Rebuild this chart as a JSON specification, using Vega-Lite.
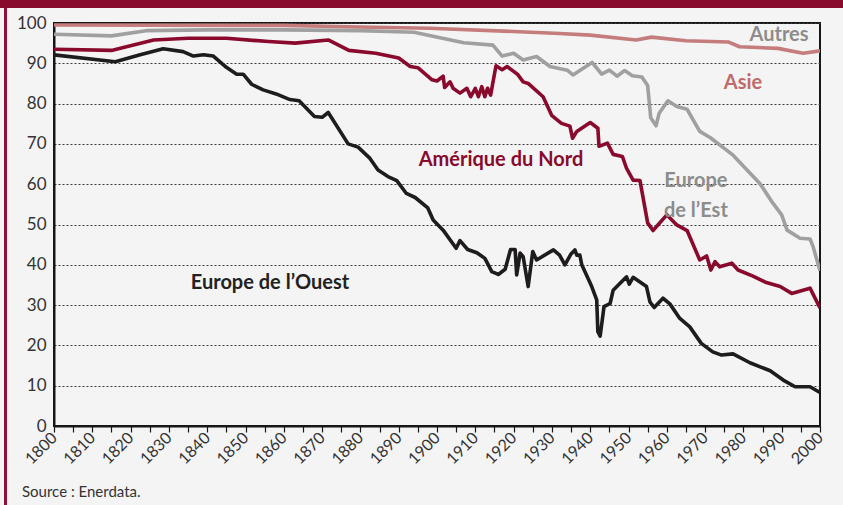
{
  "$schema": "https://vega.github.io/schema/vega-lite/v6.json",
  "width": 766,
  "height": 403,
  "autosize": "none",
  "padding": {"left": 54, "top": 23, "right": 23, "bottom": 79},
  "background": "#f4f4f4",
  "config": {
    "view": {"stroke": "#161616", "strokeWidth": 2},
    "font": "Lato"
  },
  "title": {
    "text": "Source : Enerdata.",
    "orient": "bottom",
    "anchor": "start",
    "frame": "group",
    "dx": -32,
    "offset": -22,
    "fontSize": 15,
    "fontWeight": "normal",
    "font": "Lato",
    "color": "#333333"
  },
  "datasets": {
    "lines": [
      {"s": "Europe de l'Est", "year": 1800, "v": 97.2},
      {"s": "Europe de l'Est", "year": 1815, "v": 96.8},
      {"s": "Europe de l'Est", "year": 1824, "v": 98.1},
      {"s": "Europe de l'Est", "year": 1840, "v": 98.3},
      {"s": "Europe de l'Est", "year": 1860, "v": 98.3},
      {"s": "Europe de l'Est", "year": 1880, "v": 98.1},
      {"s": "Europe de l'Est", "year": 1894, "v": 97.7},
      {"s": "Europe de l'Est", "year": 1907, "v": 95.1},
      {"s": "Europe de l'Est", "year": 1914.6, "v": 94.5},
      {"s": "Europe de l'Est", "year": 1917, "v": 91.8},
      {"s": "Europe de l'Est", "year": 1920, "v": 92.5},
      {"s": "Europe de l'Est", "year": 1922.5, "v": 90.8},
      {"s": "Europe de l'Est", "year": 1926, "v": 91.7},
      {"s": "Europe de l'Est", "year": 1929.5, "v": 89.2},
      {"s": "Europe de l'Est", "year": 1934, "v": 88.3},
      {"s": "Europe de l'Est", "year": 1935.5, "v": 87.1},
      {"s": "Europe de l'Est", "year": 1940.5, "v": 90.2},
      {"s": "Europe de l'Est", "year": 1943, "v": 87.3},
      {"s": "Europe de l'Est", "year": 1945, "v": 88.3},
      {"s": "Europe de l'Est", "year": 1947, "v": 86.8},
      {"s": "Europe de l'Est", "year": 1949, "v": 88.2},
      {"s": "Europe de l'Est", "year": 1951, "v": 86.9},
      {"s": "Europe de l'Est", "year": 1953.5, "v": 86.6},
      {"s": "Europe de l'Est", "year": 1955, "v": 84.5},
      {"s": "Europe de l'Est", "year": 1955.8, "v": 76.5},
      {"s": "Europe de l'Est", "year": 1957.2, "v": 74.5},
      {"s": "Europe de l'Est", "year": 1958, "v": 77.6},
      {"s": "Europe de l'Est", "year": 1960.3, "v": 80.7},
      {"s": "Europe de l'Est", "year": 1962.6, "v": 79.3},
      {"s": "Europe de l'Est", "year": 1965.3, "v": 78.6},
      {"s": "Europe de l'Est", "year": 1968.6, "v": 73.1},
      {"s": "Europe de l'Est", "year": 1971.3, "v": 71.6},
      {"s": "Europe de l'Est", "year": 1977.3, "v": 67.2},
      {"s": "Europe de l'Est", "year": 1984.3, "v": 60.2},
      {"s": "Europe de l'Est", "year": 1987.7, "v": 55.3},
      {"s": "Europe de l'Est", "year": 1990, "v": 52.4},
      {"s": "Europe de l'Est", "year": 1991.4, "v": 48.6},
      {"s": "Europe de l'Est", "year": 1994.8, "v": 46.6},
      {"s": "Europe de l'Est", "year": 1997.4, "v": 46.4},
      {"s": "Europe de l'Est", "year": 1998.2, "v": 44.5},
      {"s": "Europe de l'Est", "year": 2000, "v": 38.5},

      {"s": "Asie", "year": 1800, "v": 99.5},
      {"s": "Asie", "year": 1860, "v": 99.4},
      {"s": "Asie", "year": 1880, "v": 99.0},
      {"s": "Asie", "year": 1898, "v": 98.7},
      {"s": "Asie", "year": 1920, "v": 97.9},
      {"s": "Asie", "year": 1932, "v": 97.4},
      {"s": "Asie", "year": 1940, "v": 97.0},
      {"s": "Asie", "year": 1952, "v": 95.8},
      {"s": "Asie", "year": 1956, "v": 96.5},
      {"s": "Asie", "year": 1965, "v": 95.6},
      {"s": "Asie", "year": 1976, "v": 95.3},
      {"s": "Asie", "year": 1979, "v": 94.1},
      {"s": "Asie", "year": 1989, "v": 93.7},
      {"s": "Asie", "year": 1995.6, "v": 92.5},
      {"s": "Asie", "year": 2000, "v": 93.1},

      {"s": "Amérique du Nord", "year": 1800, "v": 93.5},
      {"s": "Amérique du Nord", "year": 1815, "v": 93.2},
      {"s": "Amérique du Nord", "year": 1826, "v": 95.8},
      {"s": "Amérique du Nord", "year": 1835, "v": 96.2},
      {"s": "Amérique du Nord", "year": 1845, "v": 96.2},
      {"s": "Amérique du Nord", "year": 1856, "v": 95.4},
      {"s": "Amérique du Nord", "year": 1863, "v": 95.0},
      {"s": "Amérique du Nord", "year": 1871.6, "v": 95.8},
      {"s": "Amérique du Nord", "year": 1877, "v": 93.2},
      {"s": "Amérique du Nord", "year": 1884, "v": 92.5},
      {"s": "Amérique du Nord", "year": 1890, "v": 91.3},
      {"s": "Amérique du Nord", "year": 1893, "v": 89.2},
      {"s": "Amérique du Nord", "year": 1895, "v": 88.9},
      {"s": "Amérique du Nord", "year": 1898.7, "v": 85.9},
      {"s": "Amérique du Nord", "year": 1900, "v": 85.6},
      {"s": "Amérique du Nord", "year": 1901.6, "v": 86.8},
      {"s": "Amérique du Nord", "year": 1902, "v": 84.0},
      {"s": "Amérique du Nord", "year": 1903.4, "v": 85.4},
      {"s": "Amérique du Nord", "year": 1904.2, "v": 83.8},
      {"s": "Amérique du Nord", "year": 1906, "v": 82.6},
      {"s": "Amérique du Nord", "year": 1907.8, "v": 83.8},
      {"s": "Amérique du Nord", "year": 1908.8, "v": 81.7},
      {"s": "Amérique du Nord", "year": 1910, "v": 83.8},
      {"s": "Amérique du Nord", "year": 1910.8, "v": 81.7},
      {"s": "Amérique du Nord", "year": 1911.7, "v": 84.2},
      {"s": "Amérique du Nord", "year": 1912.5, "v": 81.7},
      {"s": "Amérique du Nord", "year": 1913.2, "v": 83.8},
      {"s": "Amérique du Nord", "year": 1914, "v": 82.1},
      {"s": "Amérique du Nord", "year": 1915.4, "v": 89.4},
      {"s": "Amérique du Nord", "year": 1917, "v": 88.4},
      {"s": "Amérique du Nord", "year": 1918.3, "v": 89.2},
      {"s": "Amérique du Nord", "year": 1920, "v": 88.0},
      {"s": "Amérique du Nord", "year": 1921, "v": 87.3},
      {"s": "Amérique du Nord", "year": 1922.5, "v": 85.4},
      {"s": "Amérique du Nord", "year": 1923.8, "v": 85.0},
      {"s": "Amérique du Nord", "year": 1927.7, "v": 81.7},
      {"s": "Amérique du Nord", "year": 1930, "v": 77.0},
      {"s": "Amérique du Nord", "year": 1932.5, "v": 75.1},
      {"s": "Amérique du Nord", "year": 1934.7, "v": 74.4},
      {"s": "Amérique du Nord", "year": 1935.4, "v": 71.4},
      {"s": "Amérique du Nord", "year": 1936.5, "v": 73.1},
      {"s": "Amérique du Nord", "year": 1940, "v": 75.3},
      {"s": "Amérique du Nord", "year": 1942, "v": 73.9},
      {"s": "Amérique du Nord", "year": 1942.3, "v": 69.4},
      {"s": "Amérique du Nord", "year": 1944.5, "v": 70.2},
      {"s": "Amérique du Nord", "year": 1946, "v": 67.4},
      {"s": "Amérique du Nord", "year": 1948.4, "v": 66.9},
      {"s": "Amérique du Nord", "year": 1949.5, "v": 63.9},
      {"s": "Amérique du Nord", "year": 1951.2, "v": 61.0},
      {"s": "Amérique du Nord", "year": 1953, "v": 60.9},
      {"s": "Amérique du Nord", "year": 1955, "v": 50.4},
      {"s": "Amérique du Nord", "year": 1956.4, "v": 48.5},
      {"s": "Amérique du Nord", "year": 1960, "v": 52.4},
      {"s": "Amérique du Nord", "year": 1962.6, "v": 49.9},
      {"s": "Amérique du Nord", "year": 1965.3, "v": 48.5},
      {"s": "Amérique du Nord", "year": 1968.6, "v": 41.2},
      {"s": "Amérique du Nord", "year": 1970.4, "v": 42.2},
      {"s": "Amérique du Nord", "year": 1971.5, "v": 38.7},
      {"s": "Amérique du Nord", "year": 1972.6, "v": 40.8},
      {"s": "Amérique du Nord", "year": 1973.8, "v": 39.5},
      {"s": "Amérique du Nord", "year": 1977, "v": 40.4},
      {"s": "Amérique du Nord", "year": 1978.6, "v": 38.7},
      {"s": "Amérique du Nord", "year": 1982.5, "v": 37.2},
      {"s": "Amérique du Nord", "year": 1986, "v": 35.6},
      {"s": "Amérique du Nord", "year": 1989.6, "v": 34.6},
      {"s": "Amérique du Nord", "year": 1992.6, "v": 32.9},
      {"s": "Amérique du Nord", "year": 1997.4, "v": 34.2},
      {"s": "Amérique du Nord", "year": 2000, "v": 29.3},

      {"s": "Europe de l'Ouest", "year": 1800, "v": 92.1},
      {"s": "Europe de l'Ouest", "year": 1816, "v": 90.4},
      {"s": "Europe de l'Ouest", "year": 1822.5, "v": 92.1},
      {"s": "Europe de l'Ouest", "year": 1828.5, "v": 93.6},
      {"s": "Europe de l'Ouest", "year": 1833.7, "v": 92.9},
      {"s": "Europe de l'Ouest", "year": 1836.4, "v": 91.8},
      {"s": "Europe de l'Ouest", "year": 1839, "v": 92.1},
      {"s": "Europe de l'Ouest", "year": 1841.6, "v": 91.8},
      {"s": "Europe de l'Ouest", "year": 1845, "v": 89.0},
      {"s": "Europe de l'Ouest", "year": 1847.7, "v": 87.3},
      {"s": "Europe de l'Ouest", "year": 1849.4, "v": 87.3},
      {"s": "Europe de l'Ouest", "year": 1851.6, "v": 84.8},
      {"s": "Europe de l'Ouest", "year": 1854.6, "v": 83.4},
      {"s": "Europe de l'Ouest", "year": 1858, "v": 82.4},
      {"s": "Europe de l'Ouest", "year": 1861.6, "v": 81.0},
      {"s": "Europe de l'Ouest", "year": 1864, "v": 80.7},
      {"s": "Europe de l'Ouest", "year": 1868, "v": 76.8},
      {"s": "Europe de l'Ouest", "year": 1870, "v": 76.6},
      {"s": "Europe de l'Ouest", "year": 1871.6, "v": 77.8},
      {"s": "Europe de l'Ouest", "year": 1876.8, "v": 70.0},
      {"s": "Europe de l'Ouest", "year": 1879.4, "v": 69.2},
      {"s": "Europe de l'Ouest", "year": 1882.5, "v": 66.4},
      {"s": "Europe de l'Ouest", "year": 1884.6, "v": 63.5},
      {"s": "Europe de l'Ouest", "year": 1887.2, "v": 61.9},
      {"s": "Europe de l'Ouest", "year": 1889.5, "v": 60.9},
      {"s": "Europe de l'Ouest", "year": 1892, "v": 57.7},
      {"s": "Europe de l'Ouest", "year": 1894.3, "v": 56.7},
      {"s": "Europe de l'Ouest", "year": 1897.6, "v": 54.1},
      {"s": "Europe de l'Ouest", "year": 1899, "v": 51.1},
      {"s": "Europe de l'Ouest", "year": 1901.6, "v": 48.6},
      {"s": "Europe de l'Ouest", "year": 1905, "v": 44.1},
      {"s": "Europe de l'Ouest", "year": 1906, "v": 46.0},
      {"s": "Europe de l'Ouest", "year": 1908, "v": 43.8},
      {"s": "Europe de l'Ouest", "year": 1910.4, "v": 43.0},
      {"s": "Europe de l'Ouest", "year": 1912.5, "v": 41.6},
      {"s": "Europe de l'Ouest", "year": 1914.3, "v": 38.3},
      {"s": "Europe de l'Ouest", "year": 1916, "v": 37.6},
      {"s": "Europe de l'Ouest", "year": 1917.8, "v": 38.9},
      {"s": "Europe de l'Ouest", "year": 1919.2, "v": 43.8},
      {"s": "Europe de l'Ouest", "year": 1920.4, "v": 43.8},
      {"s": "Europe de l'Ouest", "year": 1920.8, "v": 37.5},
      {"s": "Europe de l'Ouest", "year": 1921.7, "v": 42.9},
      {"s": "Europe de l'Ouest", "year": 1922.5, "v": 42.0},
      {"s": "Europe de l'Ouest", "year": 1923.8, "v": 34.6},
      {"s": "Europe de l'Ouest", "year": 1925, "v": 43.3},
      {"s": "Europe de l'Ouest", "year": 1926, "v": 41.2},
      {"s": "Europe de l'Ouest", "year": 1930.4, "v": 43.7},
      {"s": "Europe de l'Ouest", "year": 1932, "v": 42.4},
      {"s": "Europe de l'Ouest", "year": 1933.4, "v": 40.0},
      {"s": "Europe de l'Ouest", "year": 1935, "v": 42.7},
      {"s": "Europe de l'Ouest", "year": 1936, "v": 43.7},
      {"s": "Europe de l'Ouest", "year": 1936.5, "v": 42.4},
      {"s": "Europe de l'Ouest", "year": 1937.3, "v": 42.4},
      {"s": "Europe de l'Ouest", "year": 1937.8, "v": 40.0},
      {"s": "Europe de l'Ouest", "year": 1940.4, "v": 34.6},
      {"s": "Europe de l'Ouest", "year": 1941.7, "v": 31.3},
      {"s": "Europe de l'Ouest", "year": 1942, "v": 23.4},
      {"s": "Europe de l'Ouest", "year": 1942.6, "v": 22.3},
      {"s": "Europe de l'Ouest", "year": 1943.6, "v": 29.6},
      {"s": "Europe de l'Ouest", "year": 1945.2, "v": 30.4},
      {"s": "Europe de l'Ouest", "year": 1946, "v": 33.7},
      {"s": "Europe de l'Ouest", "year": 1947.8, "v": 35.4},
      {"s": "Europe de l'Ouest", "year": 1949.5, "v": 37.0},
      {"s": "Europe de l'Ouest", "year": 1950.2, "v": 35.2},
      {"s": "Europe de l'Ouest", "year": 1951.2, "v": 36.9},
      {"s": "Europe de l'Ouest", "year": 1954.7, "v": 34.6},
      {"s": "Europe de l'Ouest", "year": 1955.6, "v": 30.8},
      {"s": "Europe de l'Ouest", "year": 1956.7, "v": 29.4},
      {"s": "Europe de l'Ouest", "year": 1959, "v": 31.7},
      {"s": "Europe de l'Ouest", "year": 1960.8, "v": 30.3},
      {"s": "Europe de l'Ouest", "year": 1963.4, "v": 26.7},
      {"s": "Europe de l'Ouest", "year": 1966, "v": 24.6},
      {"s": "Europe de l'Ouest", "year": 1969, "v": 20.5},
      {"s": "Europe de l'Ouest", "year": 1972, "v": 18.4},
      {"s": "Europe de l'Ouest", "year": 1974.3, "v": 17.6},
      {"s": "Europe de l'Ouest", "year": 1977.3, "v": 17.9},
      {"s": "Europe de l'Ouest", "year": 1981.7, "v": 15.7},
      {"s": "Europe de l'Ouest", "year": 1987, "v": 13.7},
      {"s": "Europe de l'Ouest", "year": 1990.4, "v": 11.4},
      {"s": "Europe de l'Ouest", "year": 1993.5, "v": 9.75},
      {"s": "Europe de l'Ouest", "year": 1997.4, "v": 9.75},
      {"s": "Europe de l'Ouest", "year": 2000, "v": 8.3}
    ],
    "labels": [
      {"t": "Autres", "year": 1989.3, "v": 97.0},
      {"t": "Asie", "year": 1979.9, "v": 85.2},
      {"t": "Amérique du Nord", "year": 1916.7, "v": 66.1},
      {"t": "Europe\nde l’Est", "year": 1967.6, "v": 60.8},
      {"t": "Europe de l’Ouest", "year": 1856.4, "v": 35.5}
    ]
  },
  "encoding": {
    "x": {
      "field": "year",
      "type": "quantitative",
      "scale": {"domain": [1800, 2000], "nice": false, "zero": false},
      "axis": {
        "title": null,
        "values": [1800,1805,1810,1815,1820,1825,1830,1835,1840,1845,1850,1855,1860,1865,1870,1875,1880,1885,1890,1895,1900,1905,1910,1915,1920,1925,1930,1935,1940,1945,1950,1955,1960,1965,1970,1975,1980,1985,1990,1995,2000],
        "format": "d",
        "labelExpr": "datum.value % 10 === 0 ? datum.label : ''",
        "labelAngle": -45,
        "labelAlign": "right",
        "labelBaseline": "middle",
        "labelFontSize": 16,
        "labelColor": "#333333",
        "labelPadding": 3,
        "labelFont": "Lato",
        "labelOverlap": false,
        "labelFlush": false,
        "tickSize": 6,
        "tickColor": "#161616",
        "tickWidth": 1.2,
        "domainColor": "#161616",
        "domainWidth": 2,
        "grid": false
      }
    },
    "y": {
      "field": "v",
      "type": "quantitative",
      "scale": {"domain": [0, 100], "nice": false},
      "axis": {
        "title": null,
        "values": [0,10,20,30,40,50,60,70,80,90,100],
        "labelFontSize": 17,
        "labelColor": "#333333",
        "labelFont": "Lato",
        "labelPadding": 8,
        "labelOverlap": false,
        "ticks": false,
        "domainColor": "#161616",
        "domainWidth": 2,
        "grid": true,
        "gridColor": "#3a3a3a",
        "gridDash": [2, 2],
        "gridWidth": 1
      }
    }
  },
  "layer": [
    {
      "data": {"values": [{}]},
      "mark": {"type": "rect", "color": "#880a2d"},
      "encoding": {
        "x": {"value": -54},
        "x2": {"value": 789},
        "y": {"value": -23},
        "y2": {"value": -15}
      }
    },
    {
      "data": {"values": [{}]},
      "mark": {"type": "rule", "color": "#8e1235", "strokeWidth": 3},
      "encoding": {
        "x": {"value": -48.5},
        "y": {"value": -15},
        "y2": {"value": 482}
      }
    },
    {
      "data": {"name": "lines"},
      "mark": {"type": "line", "strokeWidth": 3.6, "strokeJoin": "round", "clip": true},
      "encoding": {
        "color": {
          "field": "s",
          "type": "nominal",
          "scale": {
            "domain": ["Europe de l'Est", "Asie", "Amérique du Nord", "Europe de l'Ouest"],
            "range": ["#a0a0a0", "#c47c7c", "#8a0a2e", "#1e1c1c"]
          },
          "legend": null
        }
      }
    },
    {
      "data": {"name": "labels"},
      "mark": {"type": "text", "fontSize": 20, "fontWeight": "bold", "font": "Lato", "align": "center", "baseline": "middle", "lineBreak": "\n", "lineHeight": 30},
      "encoding": {
        "text": {"field": "t"},
        "color": {
          "field": "t",
          "type": "nominal",
          "scale": {
            "domain": ["Autres", "Asie", "Amérique du Nord", "Europe\nde l’Est", "Europe de l’Ouest"],
            "range": ["#8c8c8c", "#c06a6a", "#8a0a2e", "#8c8c8c", "#222222"]
          },
          "legend": null
        }
      }
    }
  ],
  "resolve": {"scale": {"color": "independent"}}
}
